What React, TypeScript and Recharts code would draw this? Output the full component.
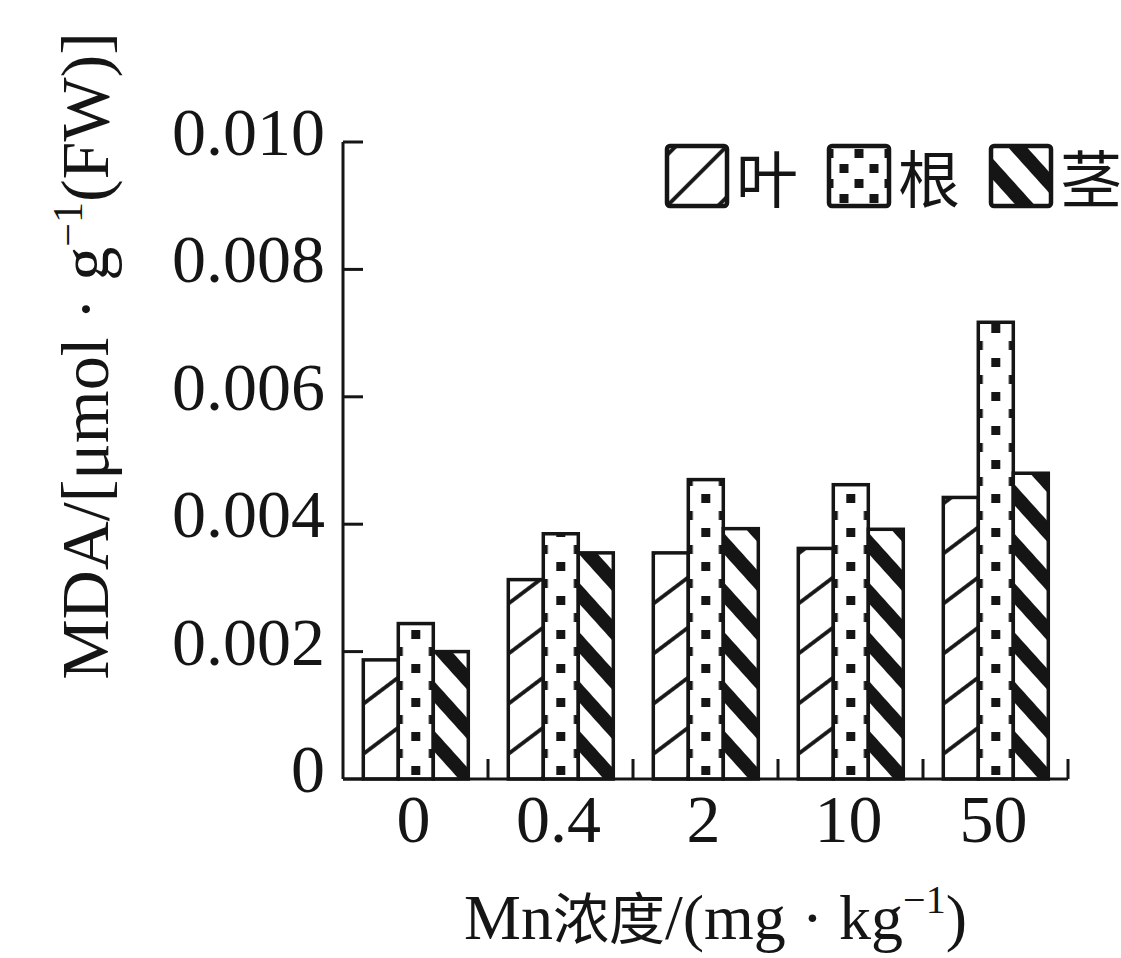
import React from 'react'
import { BarChart, Bar, XAxis, YAxis, Legend, Label } from 'recharts'

// MDA content by Mn concentration
const categories = ['0', '0.4', '2', '10', '50']
const leafValues = [0.00187, 0.00313, 0.00355, 0.00362, 0.00442]
const rootValues = [0.00244, 0.00385, 0.0047, 0.00462, 0.00717]
const stemValues = [0.002, 0.00355, 0.00393, 0.00392, 0.0048]
const yTicks = [0, 0.002, 0.004, 0.006, 0.008, 0.01]
const seriesNames = { leaf: '叶', root: '根', stem: '茎' }

const data = categories.map((c, i) => ({
  mn: c,
  leaf: leafValues[i],
  root: rootValues[i],
  stem: stemValues[i],
}))

const INK = '#151515'
const SERIF = "'Liberation Serif', 'DejaVu Serif', 'Noto Sans CJK SC', serif"
const CJK = "'Noto Sans CJK SC', sans-serif"

type Kind = 'leaf' | 'root' | 'stem'

function PatternDef({ kind, id, w, legend }: { kind: Kind; id: string; w: number; legend?: boolean }) {
  if (kind === 'leaf') {
    const p = legend ? 36 : 40
    return (
      <pattern id={id} patternUnits="userSpaceOnUse" width={12} height={p} patternTransform={`rotate(${legend ? -45 : -37})`}>
        <rect width={12} height={p} fill="#fff" />
        <line x1={-1} y1={legend ? 0 : p / 2} x2={13} y2={legend ? 0 : p / 2} stroke={INK} strokeWidth={3.8} />
        {legend && <line x1={-1} y1={p} x2={13} y2={p} stroke={INK} strokeWidth={3.8} />}
      </pattern>
    )
  }
  if (kind === 'root') {
    const h = legend ? 30 : 34
    const s = 9
    return (
      <pattern id={id} patternUnits="userSpaceOnUse" width={w} height={h}>
        <rect width={w} height={h} fill="#fff" />
        <rect x={w / 2 - s / 2} y={h * 0.75 - s / 2} width={s} height={s} fill={INK} />
        <rect x={-s / 2} y={h * 0.25 - s / 2} width={s} height={s} fill={INK} />
        <rect x={w - s / 2} y={h * 0.25 - s / 2} width={s} height={s} fill={INK} />
      </pattern>
    )
  }
  return (
    <pattern id={id} patternUnits="userSpaceOnUse" width={10} height={33} patternTransform="rotate(48)">
      <rect width={10} height={33} fill="#fff" />
      <rect x={0} y={0} width={10} height={14} fill={INK} />
    </pattern>
  )
}

const makeShape = (kind: Kind) => (props: any) => {
  const { x, y, width, height, index } = props
  if (!height || height <= 0) return <g />
  const id = `bar-${kind}-${index}`
  return (
    <g transform={`translate(${x},${y + height})`}>
      <defs>
        <PatternDef kind={kind} id={id} w={width} />
      </defs>
      <rect x={0} y={-height} width={width} height={height} fill={`url(#${id})`} stroke={INK} strokeWidth={3.5} />
    </g>
  )
}

const YTick = (props: any) => {
  const { x, y, payload } = props
  const v = payload.value as number
  return (
    <g>
      <line x1={x} x2={x + 20} y1={y} y2={y} stroke={INK} strokeWidth={3} />
      <text x={x - 18} y={y} dy={13} textAnchor="end" fontFamily={SERIF} fontSize={68} fill={INK}>
        {v === 0 ? '0' : v.toFixed(3)}
      </text>
    </g>
  )
}

const XTick = (props: any) => {
  const { x, y, payload } = props
  const half = typeof payload.offset === 'number' && payload.offset > 0 ? payload.offset : 72.5
  return (
    <g>
      <line x1={x + half} x2={x + half} y1={y} y2={y - 20} stroke={INK} strokeWidth={3} />
      <text x={x - 2} y={y + 63} textAnchor="middle" fontFamily={SERIF} fontSize={68} fill={INK}>
        {payload.value}
      </text>
    </g>
  )
}

const YLabel = (props: any) => {
  const vb = props.viewBox || { x: 0, y: 142 }
  const cx = vb.x + 108
  const cy = vb.y + 214
  return (
    <text x={cx} y={cy} transform={`rotate(-90, ${cx}, ${cy})`} textAnchor="middle" fontFamily={SERIF} fontSize={68} fill={INK}>
      MDA/[μmol · g
      <tspan fontSize={42} dy={-26}>−1</tspan>
      <tspan dy={26}>(FW)]</tspan>
    </text>
  )
}

const XLabel = (props: any) => {
  const vb = props.viewBox || { x: 343, y: 779, width: 725 }
  const cx = vb.x + vb.width / 2 + 10
  const cy = vb.y + 160
  return (
    <text x={cx} y={cy} textAnchor="middle" fontFamily={SERIF} fontSize={64} fill={INK}>
      Mn<tspan fontFamily={CJK} fontSize={56}>浓度</tspan>/(mg · kg
      <tspan fontSize={40} dy={-26}>−1</tspan>
      <tspan dy={26}>)</tspan>
    </text>
  )
}

const renderLegend = () => {
  const kinds: Kind[] = ['leaf', 'root', 'stem']
  return (
    <div style={{ display: 'flex', alignItems: 'center', whiteSpace: 'nowrap' }}>
      {kinds.map((k) => (
        <div key={k} style={{ display: 'flex', alignItems: 'center', marginRight: 28 }}>
          <svg width={66} height={66} style={{ display: 'block' }}>
            <defs>
              <PatternDef kind={k} id={`legend-${k}`} w={30} legend />
            </defs>
            <g transform="translate(3,63)">
              <rect x={0} y={-60} width={60} height={60} fill={`url(#legend-${k})`} stroke={INK} strokeWidth={4.5} rx={3} />
            </g>
          </svg>
          <span style={{ fontFamily: CJK, fontSize: 62, lineHeight: '66px', color: INK, marginLeft: 6 }}>
            {seriesNames[k]}
          </span>
        </div>
      ))}
    </div>
  )
}

export default function App() {
  return (
    <div style={{ position: 'absolute', left: 0, top: 0, width: 1121, height: 958, overflow: 'hidden', background: '#fff' }}>
      <BarChart
        width={1121}
        height={958}
        data={data}
        margin={{ top: 142, right: 53, left: 0, bottom: 0 }}
        barCategoryGap="14%"
        barGap={0}
      >
        <XAxis
          dataKey="mn"
          height={179}
          axisLine={{ stroke: INK, strokeWidth: 3 }}
          tickLine={false}
          tickSize={0}
          tickMargin={0}
          tick={<XTick />}
          interval={0}
        >
          <Label content={<XLabel />} />
        </XAxis>
        <YAxis
          width={343}
          domain={[0, 0.01]}
          ticks={yTicks}
          axisLine={{ stroke: INK, strokeWidth: 3 }}
          tickLine={false}
          tickSize={0}
          tickMargin={0}
          tick={<YTick />}
          interval={0}
        >
          <Label content={<YLabel />} />
        </YAxis>
        <Legend
          layout="horizontal"
          verticalAlign="middle"
          align="center"
          content={renderLegend}
          wrapperStyle={{ position: 'absolute', left: 664, top: 143, width: 560, height: 66 }}
        />
        <Bar dataKey="leaf" name={seriesNames.leaf} shape={makeShape('leaf')} isAnimationActive={false} />
        <Bar dataKey="root" name={seriesNames.root} shape={makeShape('root')} isAnimationActive={false} />
        <Bar dataKey="stem" name={seriesNames.stem} shape={makeShape('stem')} isAnimationActive={false} />
      </BarChart>
    </div>
  )
}
